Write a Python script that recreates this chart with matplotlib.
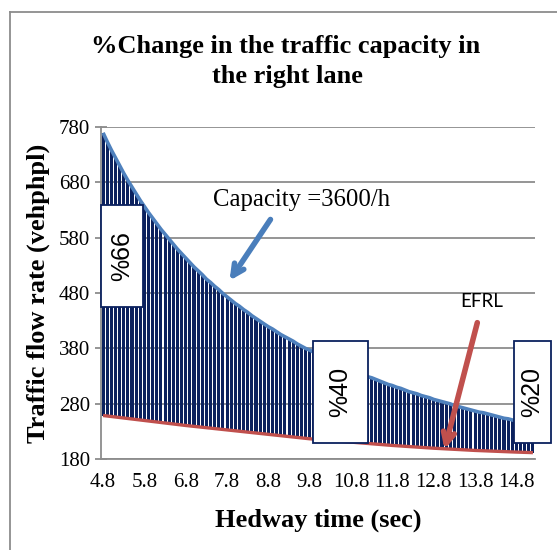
import matplotlib
matplotlib.use('Agg')
import matplotlib.pyplot as plt
from matplotlib.patches import Rectangle
from matplotlib.lines import Line2D

# Data
headway = [4.8, 4.9, 5.0, 5.1, 5.2, 5.3, 5.4, 5.5, 5.6, 5.7,
           5.8, 5.9, 6.0, 6.1, 6.2, 6.3, 6.4, 6.5, 6.6, 6.7,
           6.8, 6.9, 7.0, 7.1, 7.2, 7.3, 7.4, 7.5, 7.6, 7.7,
           7.8, 7.9, 8.0, 8.1, 8.2, 8.3, 8.4, 8.5, 8.6, 8.7,
           8.8, 8.9, 9.0, 9.1, 9.2, 9.3, 9.4, 9.5, 9.6, 9.7,
           9.8, 9.9, 10.0, 10.1, 10.2, 10.3, 10.4, 10.5, 10.6, 10.7,
           10.8, 10.9, 11.0, 11.1, 11.2, 11.3, 11.4, 11.5, 11.6, 11.7,
           11.8, 11.9, 12.0, 12.1, 12.2, 12.3, 12.4, 12.5, 12.6, 12.7,
           12.8, 12.9, 13.0, 13.1, 13.2, 13.3, 13.4, 13.5, 13.6, 13.7,
           13.8, 13.9, 14.0, 14.1, 14.2, 14.3, 14.4, 14.5, 14.6, 14.7,
           14.8, 14.9, 15.0, 15.1, 15.2]

capacity = [769, 753, 738, 724, 710, 696, 683, 671, 659, 647,
            636, 625, 615, 605, 595, 586, 577, 568, 559, 551,
            543, 535, 527, 520, 513, 505, 499, 492, 486, 479,
            473, 467, 461, 456, 450, 445, 439, 434, 429, 424,
            419, 415, 410, 405, 401, 397, 393, 388, 384, 380,
            377, 373, 369, 365, 362, 358, 355, 351, 348, 345,
            342, 339, 335, 332, 329, 327, 324, 321, 318, 315,
            313, 310, 308, 305, 302, 300, 298, 295, 293, 291,
            288, 286, 284, 282, 280, 277, 275, 273, 271, 269,
            267, 265, 264, 262, 260, 258, 256, 254, 253, 251,
            249, 248, 246, 244, 243]

efrl = [259, 258.1, 257.2, 256.3, 255.4, 254.5, 253.6, 252.7, 251.8, 250.9,
        250, 249.1, 248.2, 247.3, 246.4, 245.5, 244.6, 243.7, 242.8, 241.9,
        241, 240.2, 239.4, 238.6, 237.8, 237, 236.2, 235.4, 234.6, 233.8,
        233, 232.2, 231.4, 230.6, 229.8, 229, 228.2, 227.4, 226.6, 225.8,
        225, 224.2, 223.4, 222.6, 221.8, 221, 220.2, 219.4, 218.6, 217.8,
        217, 216.4, 215.8, 215.2, 214.6, 214, 213.4, 212.8, 212.2, 211.6,
        211, 210.4, 209.8, 209.2, 208.6, 208, 207.4, 206.8, 206.2, 205.6,
        205, 204.5, 204, 203.5, 203, 202.5, 202, 201.5, 201, 200.5,
        200, 199.6, 199.2, 198.8, 198.4, 198, 197.6, 197.2, 196.8, 196.4,
        196, 195.7, 195.4, 195.1, 194.8, 194.5, 194.2, 193.9, 193.6, 193.3,
        193, 192.8, 192.5, 192.3, 192]

tick_labels = ['4.8', '5.8', '6.8', '7.8', '8.8', '9.8',
               '10.8', '11.8', '12.8', '13.8', '14.8']
y_ticks = [180, 280, 380, 480, 580, 680, 780]
change_labels = ['%66', '%40', '%20']

serif = 'Liberation Serif'
grey = '#8c8c8c'

fig = plt.figure(figsize=(5.57, 5.50), dpi=100)
ax = fig.add_axes([101 / 557, 1 - 459.3 / 550, 434 / 557, 332.6 / 550])

x = list(range(len(headway)))
heights = [c - e for c, e in zip(capacity, efrl)]

# Gap between the two curves as dense vertical bars
ax.bar(x, heights, bottom=efrl, width=0.74, color='#0b215e', edgecolor='none', zorder=2)
ax.plot(x, capacity, color='#4f81bd', lw=2.6, zorder=3, solid_capstyle='butt')
ax.plot(x, efrl, color='#c0504d', lw=2.4, zorder=3, solid_capstyle='butt')

ax.set_xlim(-0.5, len(headway) - 0.5)
ax.set_ylim(180, 780)
ax.set_yticks(y_ticks)
ax.set_xticks([headway.index(float(t)) for t in tick_labels])
ax.set_xticklabels(tick_labels)
ax.yaxis.grid(True, color=grey, lw=1.3)
ax.set_axisbelow(True)
for s in ['top', 'right']:
    ax.spines[s].set_visible(False)
for s in ['left', 'bottom']:
    ax.spines[s].set_color(grey)
    ax.spines[s].set_linewidth(1.3)
ax.tick_params(axis='y', direction='inout', length=8, color=grey, width=1.3, pad=4)
ax.tick_params(axis='x', length=0, pad=10)
for lab in ax.get_xticklabels() + ax.get_yticklabels():
    lab.set_fontfamily(serif)
    lab.set_fontsize(15)

ax.set_xlabel('Hedway time (sec)', fontfamily=serif, fontsize=19, fontweight='bold', labelpad=12)
ax.set_ylabel('Traffic flow rate (vehphpl)', fontfamily=serif, fontsize=19, fontweight='bold', labelpad=6)

fig.text(285.5 / 557, 1 - 47 / 550, '%Change in the traffic capacity in',
         ha='center', va='center', fontfamily=serif, fontsize=19, fontweight='bold')
fig.text(287 / 557, 1 - 77 / 550, 'the right lane',
         ha='center', va='center', fontfamily=serif, fontsize=19, fontweight='bold')

# Percentage boxes
boxes = [(0.0, 0.458, 0.0968, 0.307),
         (0.4885, 0.049, 0.1265, 0.307),
         (0.9516, 0.049, 0.0854, 0.307)]
for (bx, by, bw, bh), lab in zip(boxes, change_labels):
    ax.add_patch(Rectangle((bx, by), bw, bh, transform=ax.transAxes, facecolor='white',
                           edgecolor='#0b215e', lw=1.3, zorder=5, clip_on=False))
    ax.text(bx + bw / 2, by + bh / 2, lab, transform=ax.transAxes, rotation=90,
            ha='center', va='center', fontfamily='Liberation Sans', fontsize=18, zorder=6)

# Annotations
ax.text(0.258, 0.78, 'Capacity =3600/h', transform=ax.transAxes, ha='left', va='center',
        fontfamily=serif, fontsize=17.8, zorder=6)
ax.annotate('', xy=(0.2926, 0.5302), xytext=(0.394, 0.728), xycoords='axes fraction',
            arrowprops=dict(arrowstyle='->,head_length=0.8,head_width=0.4',
                            color='#4a7ebb', lw=4), zorder=6)
ax.text(0.878, 0.473, 'EFRL', transform=ax.transAxes, ha='center', va='center',
        fontfamily='Lato', fontsize=13.5, zorder=6)
ax.annotate('', xy=(0.790, 0.022), xytext=(0.8687, 0.4189), xycoords='axes fraction',
            arrowprops=dict(arrowstyle='->,head_length=0.8,head_width=0.4',
                            color='#c0504d', lw=4), zorder=6)

# Chart area border (left and top edges visible)
fig.add_artist(Line2D([10 / 557, 10 / 557], [0, 1 - 12 / 550], color=grey, lw=1.3,
                      transform=fig.transFigure))
fig.add_artist(Line2D([10 / 557, 1], [1 - 12 / 550, 1 - 12 / 550], color=grey, lw=1.3,
                      transform=fig.transFigure))

fig.savefig('out.png', dpi=100)
